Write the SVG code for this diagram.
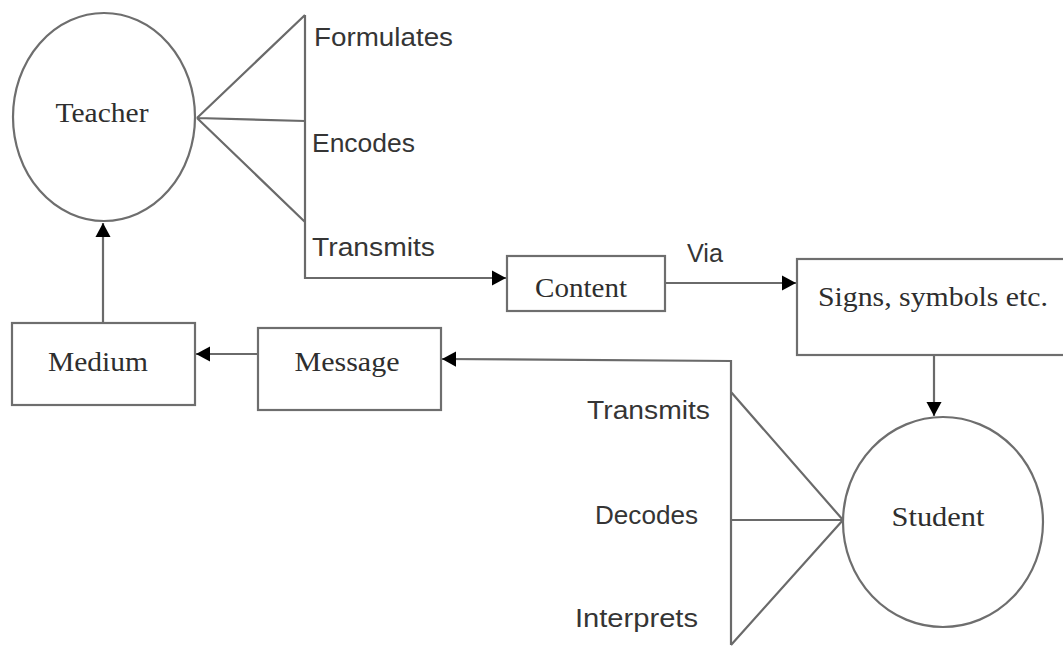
<svg xmlns="http://www.w3.org/2000/svg" width="1063" height="647" viewBox="0 0 1063 647">
<defs>
<style>
.shape{fill:#fff;stroke:#6e6e6e;stroke-width:2.2}
.ln{fill:none;stroke:#6a6a6a;stroke-width:2.2}
.serif{font-family:"Liberation Serif","Times New Roman",serif;font-size:27px;fill:#2e2e2e}
.sans{font-family:"Liberation Sans",Arial,sans-serif;font-size:26px;fill:#353535}
</style>
<marker id="arr" viewBox="0 0 10 10" refX="10" refY="5" markerWidth="6.5" markerHeight="7" markerUnits="strokeWidth" orient="auto" preserveAspectRatio="none">
<path d="M0,0 L10,5 L0,10 z" fill="#000"/>
</marker>
</defs>
<rect width="1063" height="647" fill="#fff"/>
<g id="connectors">
<path class="ln" d="M197,118 L305,15 M197,118 L305,121 M197,118 L305,222 M305,15 L305,278 L506,278" marker-end="url(#arr)"/>
<path class="ln" d="M665,283 L796,283" marker-end="url(#arr)"/>
<path class="ln" d="M934,356 L934,416" marker-end="url(#arr)"/>
<path class="ln" d="M843,520 L731,392 M843,520 L731,520 M843,520 L731,645 M731,645 L731,361 L442,359" marker-end="url(#arr)"/>
<path class="ln" d="M258,354 L196,354" marker-end="url(#arr)"/>
<path class="ln" d="M103,323 L103,223" marker-end="url(#arr)"/>
</g>
<g id="teacher">
<ellipse class="shape" cx="104" cy="117" rx="91" ry="104"/>
<text class="serif" x="102" y="122" text-anchor="middle" textLength="93" lengthAdjust="spacingAndGlyphs">Teacher</text>
</g>
<g id="teacher-labels">
<text class="sans" x="314" y="46" textLength="139" lengthAdjust="spacingAndGlyphs">Formulates</text>
<text class="sans" x="312" y="152" textLength="103" lengthAdjust="spacingAndGlyphs">Encodes</text>
<text class="sans" x="312" y="256" textLength="123" lengthAdjust="spacingAndGlyphs">Transmits</text>
</g>
<g id="content">
<rect class="shape" x="507" y="256" width="158" height="55"/>
<text class="serif" x="581" y="297" text-anchor="middle" textLength="92" lengthAdjust="spacingAndGlyphs">Content</text>
</g>
<g id="via">
<text class="sans" x="687" y="262" textLength="36" lengthAdjust="spacingAndGlyphs">Via</text>
</g>
<g id="signs">
<rect class="shape" x="797" y="259" width="270" height="96"/>
<text class="serif" x="933" y="306" text-anchor="middle" textLength="230" lengthAdjust="spacingAndGlyphs">Signs, symbols etc.</text>
</g>
<g id="student">
<ellipse class="shape" cx="943" cy="522" rx="100" ry="105"/>
<text class="serif" x="938" y="526" text-anchor="middle" textLength="93" lengthAdjust="spacingAndGlyphs">Student</text>
</g>
<g id="student-labels">
<text class="sans" x="587" y="419" textLength="123" lengthAdjust="spacingAndGlyphs">Transmits</text>
<text class="sans" x="595" y="524" textLength="103" lengthAdjust="spacingAndGlyphs">Decodes</text>
<text class="sans" x="575" y="627" textLength="123" lengthAdjust="spacingAndGlyphs">Interprets</text>
</g>
<g id="message">
<rect class="shape" x="258" y="328" width="183" height="82"/>
<text class="serif" x="347" y="371" text-anchor="middle" textLength="105" lengthAdjust="spacingAndGlyphs">Message</text>
</g>
<g id="medium">
<rect class="shape" x="12" y="323" width="183" height="82"/>
<text class="serif" x="98" y="371" text-anchor="middle" textLength="100" lengthAdjust="spacingAndGlyphs">Medium</text>
</g>
</svg>
